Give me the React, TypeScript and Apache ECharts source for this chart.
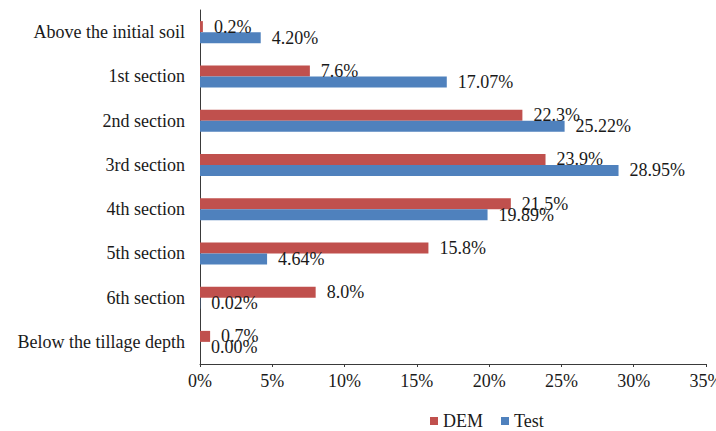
import React, { useEffect, useRef } from "react";
import * as echarts from "echarts";

// Share of particles per soil layer (%)
const categories = [
  "Above the initial soil",
  "1st section",
  "2nd section",
  "3rd section",
  "4th section",
  "5th section",
  "6th section",
  "Below the tillage depth",
];
const demValues = [0.2, 7.6, 22.3, 23.9, 21.5, 15.8, 8.0, 0.7];
const testValues = [4.2, 17.07, 25.22, 28.95, 19.89, 4.64, 0.02, 0.0];
const xTicks = { min: 0, max: 35, interval: 5 };

const FONT = "'Liberation Serif', 'Times New Roman', serif";
const TEXT = "#1a1a1a";
const SIZE = 18;

export default function App() {
  const ref = useRef<HTMLDivElement>(null);

  useEffect(() => {
    if (!ref.current) return;
    const chart = echarts.init(ref.current, null, { renderer: "svg" });
    chart.setOption({
      animation: false,
      backgroundColor: "#ffffff",
      textStyle: { fontFamily: FONT },
      grid: {
        left: 200,
        right: 10,
        top: 10,
        bottom: 67,
        containLabel: false,
        outerBoundsMode: "none",
      },
      legend: {
        left: 425,
        top: 407,
        itemWidth: 8,
        itemHeight: 8,
        itemGap: 18,
        icon: "rect",
        textStyle: { fontFamily: FONT, fontSize: SIZE, color: TEXT },
        data: ["DEM", "Test"],
      },
      xAxis: {
        type: "value",
        min: xTicks.min,
        max: xTicks.max,
        interval: xTicks.interval,
        axisLine: { show: true, lineStyle: { color: "#3a3a3a", width: 1 } },
        axisTick: { show: true, length: 3, lineStyle: { color: "#3a3a3a" } },
        axisLabel: {
          formatter: "{value}%",
          fontFamily: FONT,
          fontSize: SIZE,
          color: TEXT,
          margin: 8,
        },
        splitLine: { show: false },
      },
      yAxis: {
        type: "category",
        inverse: true,
        data: categories,
        axisLine: { show: true, lineStyle: { color: "#3a3a3a", width: 1 } },
        axisTick: { show: false },
        axisLabel: { fontFamily: FONT, fontSize: SIZE, color: TEXT, margin: 15 },
      },
      series: [
        {
          name: "DEM",
          type: "bar",
          data: demValues,
          barWidth: 11,
          barGap: "0%",
          itemStyle: { color: "#C0504D" },
          label: {
            show: true,
            position: "right",
            distance: 11,
            fontFamily: FONT,
            fontSize: SIZE,
            color: TEXT,
            formatter: (p: any) => `${Number(p.value).toFixed(1)}%`,
          },
        },
        {
          name: "Test",
          type: "bar",
          data: testValues,
          barWidth: 11,
          barGap: "0%",
          itemStyle: { color: "#4F81BD" },
          label: {
            show: true,
            position: "right",
            distance: 11,
            fontFamily: FONT,
            fontSize: SIZE,
            color: TEXT,
            formatter: (p: any) => `${Number(p.value).toFixed(2)}%`,
          },
        },
      ],
    });
    return () => chart.dispose();
  }, []);

  return (
    <div style={{ position: "absolute", left: 0, top: 0 }}>
      <div ref={ref} style={{ width: 716, height: 431 }} />
    </div>
  );
}
